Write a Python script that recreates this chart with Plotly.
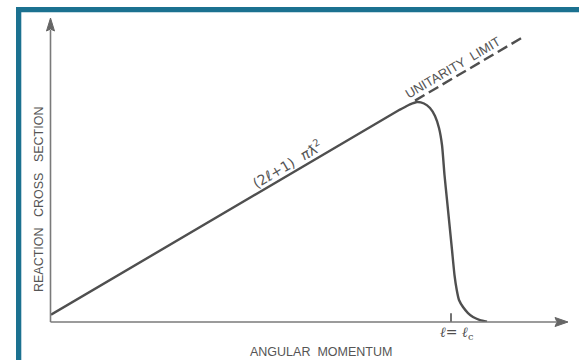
import plotly.graph_objects as go

# Reaction cross section per partial wave vs angular momentum (schematic)
ell = [0.0, 13.96, 14.16, 14.36, 14.64, 14.92, 15.16, 15.36, 15.52, 15.64,
       15.74, 15.84, 15.94, 16.04, 16.14, 16.23, 16.32, 16.48, 16.68, 16.88,
       17.16, 17.44]
sigma = [1.0, 28.9, 29.25, 29.6, 29.93, 29.73, 29.12, 28.03, 26.39, 24.08,
         20.0, 16.6, 13.2, 9.8, 6.39, 4.35, 2.99, 2.04, 1.22, 0.68,
         0.27, 0.05]

# Unitarity limit (2l+1) continued beyond the peak
limit_ell = [14.56, 18.88]
limit_sigma = [30.12, 38.76]

ell_c = 16.0
x_range = [0, 20.68]
y_range = [0, 41.36]

W, H = 579, 360
ML, MR, MT, MB = 51, 11, 18, 38
PW, PH = W - ML - MR, H - MT - MB

INK = "#4f4f4f"
AXIS = "#7a7a7a"
TEAL = "#1b7190"
TEXT = "#555555"


def px(x):
    return (x - ML) / PW


def py(y):
    return (H - MB - y) / PH


fig = go.Figure()

fig.add_trace(go.Scatter(
    x=ell, y=sigma, mode="lines",
    line=dict(color=INK, width=2.4, shape="spline", smoothing=0.6),
    hoverinfo="skip", showlegend=False, cliponaxis=False))

fig.add_trace(go.Scatter(
    x=limit_ell, y=limit_sigma, mode="lines",
    line=dict(color=INK, width=2.4, dash="11px,5px"),
    hoverinfo="skip", showlegend=False, cliponaxis=False))

# l = lc tick on the horizontal axis
fig.add_trace(go.Scatter(
    x=[ell_c, ell_c], y=[-0.4, 1.2], mode="lines",
    line=dict(color=INK, width=1.6),
    hoverinfo="skip", showlegend=False, cliponaxis=False))

shapes = []
# axes with arrowheads
shapes.append(dict(type="line", xref="paper", yref="paper",
                   x0=px(50.5), y0=0, x1=px(556), y1=0,
                   line=dict(color=AXIS, width=1.6)))
shapes.append(dict(type="line", xref="paper", yref="paper",
                   x0=px(50.5), y0=0, x1=px(50.5), y1=py(30),
                   line=dict(color=AXIS, width=1.6)))
shapes.append(dict(type="path", xref="paper", yref="paper",
                   path=f"M {px(568)} {py(322)} L {px(555)} {py(317.5)} "
                        f"L {px(557)} {py(322)} L {px(555)} {py(326.5)} Z",
                   fillcolor="#666666", line=dict(color="#666666", width=1)))
shapes.append(dict(type="path", xref="paper", yref="paper",
                   path=f"M {px(50.5)} {py(18)} L {px(46.5)} {py(31)} "
                        f"L {px(50.5)} {py(29)} L {px(54.5)} {py(31)} Z",
                   fillcolor="#666666", line=dict(color="#666666", width=1)))
# frame edges
shapes.append(dict(type="rect", xref="paper", yref="paper",
                   x0=px(16), x1=px(21.3), y0=py(360), y1=py(7),
                   fillcolor=TEAL, line=dict(width=0)))
shapes.append(dict(type="rect", xref="paper", yref="paper",
                   x0=px(16), x1=px(579), y0=py(12.3), y1=py(7),
                   fillcolor=TEAL, line=dict(width=0)))

FONT = "Liberation Sans, Arial, sans-serif"
C = dict(xanchor="center", yanchor="middle", showarrow=False)
annotations = [
    dict(text="(2<i>ℓ</i>+1)  <i>π</i>ƛ<sup>2</sup>", x=9.44, y=21.5,
         xref="x", yref="y", textangle=-30.5,
         font=dict(family="DejaVu Sans, sans-serif", size=14, color=TEXT), **C),
    dict(text="UNITARITY  LIMIT", x=16.08, y=34.6,
         xref="x", yref="y", textangle=-30.5,
         font=dict(family=FONT, size=13, color=TEXT), **C),
    dict(text="<i>ℓ</i>= <i>ℓ</i><sub>c</sub>", x=px(457), y=py(333),
         xref="paper", yref="paper",
         font=dict(family="DejaVu Serif, serif", size=14, color=INK), **C),
    dict(text="ANGULAR  MOMENTUM", x=px(321), y=py(352),
         xref="paper", yref="paper",
         font=dict(family=FONT, size=12.5, color=TEXT), **C),
    dict(text="REACTION   CROSS   SECTION", x=px(39), y=py(200),
         xref="paper", yref="paper", textangle=-90,
         font=dict(family=FONT, size=12.5, color=TEXT), **C),
]

fig.update_layout(
    width=W, height=H,
    margin=dict(l=ML, r=MR, t=MT, b=MB, pad=0),
    paper_bgcolor="white", plot_bgcolor="white",
    xaxis=dict(range=x_range, visible=False, fixedrange=True),
    yaxis=dict(range=y_range, visible=False, fixedrange=True),
    shapes=shapes, annotations=annotations,
    showlegend=False,
)

fig.write_html("out.html", config={"displayModeBar": False})
